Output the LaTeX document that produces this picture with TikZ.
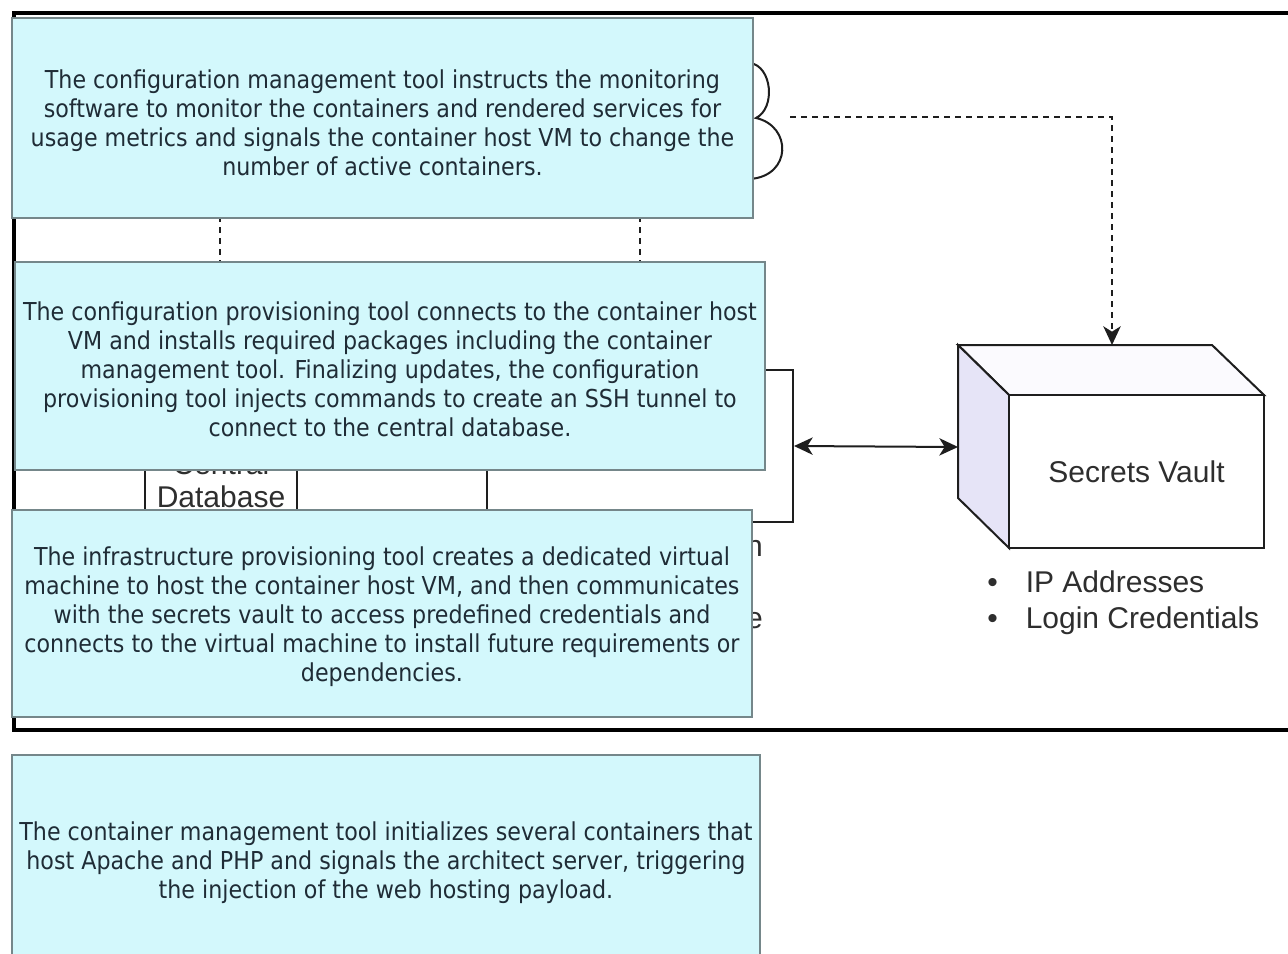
\documentclass[tikz,border=0pt]{standalone}
\usepackage{fontspec}
\setmainfont{Liberation Sans}
\newfontfamily\boxfont{DejaVu Sans Condensed}
\usetikzlibrary{arrows.meta}
\definecolor{boxfill}{HTML}{D3F8FC}
\definecolor{boxline}{HTML}{75878A}
\definecolor{boxtext}{HTML}{1F2C36}
\definecolor{lineblack}{HTML}{1E1E1E}
\definecolor{vaultside}{HTML}{E6E4F7}
\definecolor{vaulttop}{HTML}{FBFAFE}
\definecolor{labeltext}{HTML}{2E2E2E}
\tikzset{vtip/.tip={Stealth[length=14pt, width=13pt, inset=4pt]}}
\begin{document}
\begin{tikzpicture}[x=0.75pt,y=-0.75pt,
  frameline/.style={line width=2.4pt, draw=black},
  thinline/.style={line width=1.5pt, draw=lineblack},
  dashconn/.style={line width=1.6pt, draw=lineblack, dash pattern=on 4.5pt off 3.75pt},
  infobox/.style={draw=boxline, fill=boxfill, line width=1.3pt, inner sep=0pt},
  infotext/.style={inner sep=0pt, align=center, text=boxtext,
    font=\boxfont\fontsize{18.5pt}{21.75pt}\selectfont},
  lbl/.style={font=\fontsize{22.5pt}{24.75pt}\selectfont, text=labeltext, inner sep=0pt},
  plainbox/.style={draw=lineblack, line width=1.5pt, fill=white, inner sep=0pt, align=center}
]
\useasboundingbox (0,0) rectangle (1288,953);
\fill[white] (0,0) rectangle (1288,953);

% outer frame
\draw[frameline] (1295,13) -- (14,13) -- (14,730) -- (1295,730);

% dotted verticals between the top boxes
\coordinate (d1a) at (220,205);
\coordinate (d1b) at (220,275);
\coordinate (d2a) at (640,205);
\coordinate (d2b) at (640,275);
\draw[dashconn] (d1a) -- (d1b);
\draw[dashconn] (d2a) -- (d2b);

% shapes behind the boxes
\node[plainbox, minimum width=114pt, minimum height=75pt, font=\fontsize{22.5pt}{24.75pt}\selectfont, text=labeltext] (db) at (221,480) {Central\\Database};
\node[plainbox, minimum width=229.5pt, minimum height=114pt] (vm) at (640,446) {};
\node[lbl, anchor=base east] (fragn) at (763,556) {n};
\node[lbl, anchor=base east] (frage) at (763,628) {e};
\draw[thinline] (750,63) .. controls (772,66) and (776,108) .. (756,118)
                .. controls (792,126) and (792,176) .. (750,179);

% info boxes
\node[infobox, minimum width=555.75pt, minimum height=150pt] (box1) at (382.5,118) {};
\node[infotext, yshift=-3.75pt] (box1text) at (box1.center)
  {The configuration management tool instructs the monitoring\\
   software to monitor the containers and rendered services for\\
   usage metrics and signals the container host VM to change the\\
   number of active containers.};
\node[infobox, minimum width=562.5pt, minimum height=156pt] (box2) at (390,366) {};
\node[infotext, yshift=-2.25pt] (box2text) at (box2.center)
  {The configuration provisioning tool connects to the container host\\
   VM and installs required packages including the container\\
   management tool. Finalizing updates, the configuration\\
   provisioning tool injects commands to create an SSH tunnel to\\
   connect to the central database.};
\node[infobox, minimum width=555pt, minimum height=155.25pt] (box3) at (382,613.5) {};
\node[infotext, yshift=-2.25pt] (box3text) at (box3.center)
  {The infrastructure provisioning tool creates a dedicated virtual\\
   machine to host the container host VM, and then communicates\\
   with the secrets vault to access predefined credentials and\\
   connects to the virtual machine to install future requirements or\\
   dependencies.};
\node[infobox, minimum width=561pt, minimum height=153.75pt] (box4) at (386,857.5) {};
\node[infotext, yshift=-3.75pt] (box4text) at (box4.center)
  {The container management tool initializes several containers that\\
   host Apache and PHP and signals the architect server, triggering\\
   the injection of the web hosting payload.};

% secrets vault (3D box)
\filldraw[thinline, fill=vaulttop] (958,345) -- (1212,345) -- (1264,395) -- (1009,395) -- cycle;
\filldraw[thinline, fill=vaultside] (958,345) -- (1009,395) -- (1009,548) -- (958,498) -- cycle;
\node[plainbox, minimum width=191.25pt, minimum height=114.75pt, font=\fontsize{22.5pt}{24.75pt}\selectfont, text=labeltext] (vault) at (1136.5,471.5) {Secrets Vault};
\coordinate (vaulttopc) at (1112,345);
\coordinate (vaultleft) at (958,447);
\coordinate (cloudE) at (790,117);

% connectors
\draw[dashconn, -{vtip}] (cloudE) -| (vaulttopc);
\draw[thinline, {vtip}-{vtip}] (vm.east) -- (vaultleft);

% bullet list
\node[lbl, anchor=base west] (b1) at (987,592) {\textbullet\hspace{21pt}IP Addresses};
\node[lbl, anchor=base west] (b2) at (987,628) {\textbullet\hspace{21pt}Login Credentials};
\end{tikzpicture}
\end{document}
